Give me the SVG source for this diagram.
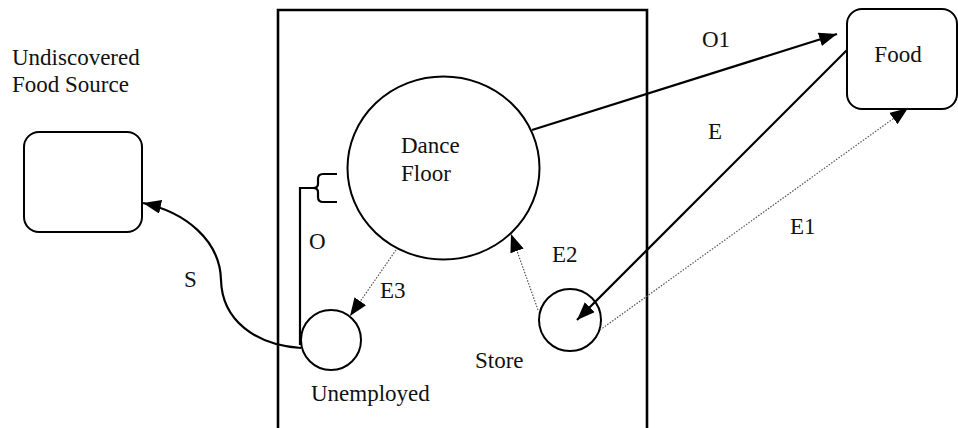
<svg xmlns="http://www.w3.org/2000/svg" width="958" height="428" viewBox="0 0 958 428">
<style>
  .node { fill: #fff; stroke: #000; stroke-width: 2; }
  .solid { fill: none; stroke: #000; stroke-width: 2.2; }
  .dotted { fill: none; stroke: #555; stroke-width: 1.2; stroke-dasharray: 1.5 1.5; }
  .frame { fill: none; stroke: #000; stroke-width: 2.6; }
</style>
<defs>
  <marker id="arrow" markerUnits="userSpaceOnUse" markerWidth="20" markerHeight="16" refX="18" refY="7" orient="auto">
    <path d="M0,0 L18,7 L0,14 z" fill="#000"/>
  </marker>
</defs>
<rect width="958" height="428" fill="#fff"/>

<g id="hive">
  <path class="frame" d="M278 430 L278 10 L647 10 L647 430"/>
</g>

<g id="undiscovered">
  <rect class="node" x="24" y="132" width="118" height="100" rx="15"/>
  <text x="12" y="65" font-family="Liberation Serif" font-size="23" fill="#111">Undiscovered</text>
  <text x="12" y="92" font-family="Liberation Serif" font-size="23" fill="#111">Food Source</text>
</g>

<g id="food">
  <rect class="node" x="847" y="9" width="110" height="100" rx="15"/>
  <text x="898" y="62" text-anchor="middle" font-family="Liberation Serif" font-size="23" fill="#111">Food</text>
</g>

<g id="dance-floor">
  <ellipse class="node" cx="443.5" cy="168" rx="96" ry="91.5"/>
  <text x="401" y="153" font-family="Liberation Serif" font-size="23" fill="#111">Dance</text>
  <text x="401" y="181" font-family="Liberation Serif" font-size="23" fill="#111">Floor</text>
</g>

<g id="unemployed">
  <circle class="node" cx="331" cy="340" r="30"/>
  <text x="311" y="401" font-family="Liberation Serif" font-size="23" fill="#111">Unemployed</text>
</g>

<g id="store">
  <circle class="node" cx="570" cy="320" r="31"/>
  <text x="475" y="368" font-family="Liberation Serif" font-size="23" fill="#111">Store</text>
</g>

<g id="connectors">
  <path class="solid" d="M532 130 L837 34" marker-end="url(#arrow)"/>
  <path class="solid" d="M847 50 L577 320" marker-end="url(#arrow)"/>
  <path class="dotted" d="M600 330 L908 108" marker-end="url(#arrow)"/>
  <path class="dotted" d="M538 310 L511 234" marker-end="url(#arrow)"/>
  <path class="dotted" d="M396 250 L350 316" marker-end="url(#arrow)"/>
  <path class="solid" d="M301 348 C255 345, 222 320, 221 280 C220 240, 185 212, 143 203" marker-end="url(#arrow)"/>
  <path class="solid" d="M300 345 L300 188 L313 188"/>
  <path class="solid" d="M337 174 L323 174 Q318 174 318 179 L318 184 Q318 188 313 188 Q318 188 318 192 L318 197 Q318 202 323 202 L337 202"/>
  <text x="702" y="47" font-family="Liberation Serif" font-size="23" fill="#111">O1</text>
  <text x="708" y="139" font-family="Liberation Serif" font-size="23" fill="#111">E</text>
  <text x="790" y="234" font-family="Liberation Serif" font-size="23" fill="#111">E1</text>
  <text x="552" y="262" font-family="Liberation Serif" font-size="23" fill="#111">E2</text>
  <text x="380" y="298" font-family="Liberation Serif" font-size="23" fill="#111">E3</text>
  <text x="309" y="249" font-family="Liberation Serif" font-size="23" fill="#111">O</text>
  <text x="184" y="287" font-family="Liberation Serif" font-size="23" fill="#111">S</text>
</g>
</svg>
